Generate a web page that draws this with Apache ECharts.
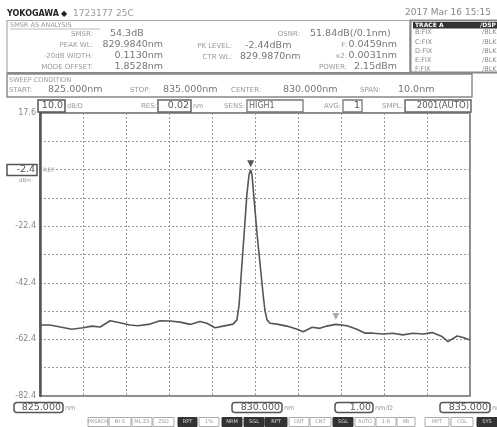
<!DOCTYPE html>
<html><head><meta charset="utf-8">
<script src="https://cdn.jsdelivr.net/npm/echarts@6/dist/echarts.min.js"></script>
<style>html,body{margin:0;padding:0;background:#fff;overflow:hidden}#c{width:497px;height:427px;}</style>
</head><body><div id="c"></div>
<script>
// ---- data ----
const wavelengthNm = [825.00,825.23,825.47,825.74,826.00,826.21,826.40,826.63,826.86,827.09,827.28,827.56,827.79,828.02,828.26,828.49,828.72,828.88,829.07,829.26,829.49,829.58,829.63,829.67,829.72,829.77,829.81,829.86,829.90,829.93,829.98,830.05,830.12,830.19,830.23,830.28,830.35,830.51,830.74,830.98,831.12,831.33,831.51,831.67,831.88,832.14,832.37,832.56,832.74,832.98,833.21,833.44,833.67,833.91,834.12,834.35,834.49,834.70,834.84,835.00];
const levelDbm = [-57.3,-57.3,-58.0,-58.8,-58.3,-57.7,-58.0,-55.8,-56.5,-57.3,-57.6,-57.0,-55.8,-55.9,-56.3,-57.1,-56.1,-56.7,-58.3,-57.7,-57.0,-55.5,-50.2,-41.4,-30.8,-20.2,-11.4,-4.3,-2.44,-4.3,-13.1,-25.5,-36.1,-46.7,-52.0,-55.5,-56.7,-57.0,-57.7,-58.8,-59.7,-58.1,-58.5,-57.7,-57.1,-57.6,-58.8,-60.2,-60.2,-60.5,-60.2,-60.8,-60.2,-60.5,-60.0,-61.4,-63.2,-61.2,-61.7,-62.6];
const yLabelValues = ['17.6','-22.4','-42.4','-62.4','-82.4'];
const markerPeak = [829.90, -2.44];
const markerSideMode = [831.88, -57.1];
const xRange = [825, 835];
const yRange = [-82.4, 17.6];

// ---- helpers ----
const LBL = "7px 'DejaVu Sans'";
const VAL = "9.5px 'DejaVu Sans'";
function T(x, y, text, font, fill, align, extra) {
  return Object.assign({type:'text', silent:true, z:10, style:{text:text, x:x, y:y, font:font||LBL, fill:fill||'#999', align:align||'left', verticalAlign:'middle'}}, extra||{});
}
function R(x, y, w, h, stroke, fill, lw) {
  return {type:'rect', silent:true, z:9, shape:{x:x,y:y,width:w,height:h}, style:{stroke:stroke||'#777', fill:fill||'none', lineWidth:lw||1}};
}
function L(x1,y1,x2,y2,stroke,lw){
  return {type:'line', silent:true, z:9, shape:{x1:x1,y1:y1,x2:x2,y2:y2}, style:{stroke:stroke||'#888', lineWidth:lw||1}};
}
const g = [];
// title row
g.push(T(7,14,'YOKOGAWA',"bold 8px 'DejaVu Sans'",'#222'));
g.push(T(61,14,'\u25C6',"8px 'DejaVu Sans'",'#222'));
g.push(T(73,14,'1723177 25C',"9px 'DejaVu Sans'",'#999'));
g.push(T(405,13,'2017 Mar 16 15:15',"9px 'DejaVu Sans'",'#888'));
// analysis box
g.push(R(7,20.5,403,52,'#aaa','none',1.2));
g.push(L(7,73,472,73,'#888',2));
g.push(T(10,25.5,'SMSR AS ANALYSIS',"6.5px 'DejaVu Sans'",'#999'));
g.push(L(10,29,100,29,'#aaa',0.8));
g.push(T(93,34,'SMSR:',LBL,'#999','right'));
g.push(T(93,45.5,'PEAK WL:',LBL,'#999','right'));
g.push(T(93,56.5,'-20dB WIDTH:',LBL,'#999','right'));
g.push(T(93,67,'MODE OFFSET:',LBL,'#999','right'));
g.push(T(110,33.5,'54.3dB',VAL,'#777'));
g.push(T(163,45,'829.9840nm',VAL,'#777','right'));
g.push(T(163,56,'0.1130nm',VAL,'#777','right'));
g.push(T(163,66.5,'1.8528nm',VAL,'#777','right'));
g.push(T(232,46,'PK LEVEL:',LBL,'#999','right'));
g.push(T(232,57,'CTR WL:',LBL,'#999','right'));
g.push(T(245,45.5,'-2.44dBm',VAL,'#777'));
g.push(T(240,56.5,'829.9870nm',VAL,'#777'));
g.push(T(300,34,'OSNR:',LBL,'#999','right'));
g.push(T(310,33.5,'51.84dB(/0.1nm)',VAL,'#777'));
g.push(T(347,45,'F:',LBL,'#999','right'));
g.push(T(347,56.5,'\u03BA2:',LBL,'#999','right'));
g.push(T(347,67,'POWER:',LBL,'#999','right'));
g.push(T(397,44.5,'0.0459nm',VAL,'#777','right'));
g.push(T(397,56,'0.0031nm',VAL,'#777','right'));
g.push(T(397,66.5,'2.15dBm',VAL,'#777','right'));
// trace box
g.push(R(410.5,20.5,90,52,'#888','none',2));
g.push(R(413,22,84,6.5,'none','#333'));
g.push(T(415,25.3,'TRACE A',"bold 6px 'DejaVu Sans'",'#fff'));
g.push(T(480,25.3,'/DSP',"bold 6px 'DejaVu Sans'",'#fff'));
['B:FIX','C:FIX','D:FIX','E:FIX','F:FIX'].forEach(function(t,i){
  const y = [32.5,42,51.5,60.5,69.5][i];
  g.push(T(415,y,t,"6.5px 'DejaVu Sans'",'#888'));
  g.push(T(482,y,'/BLK',"6.5px 'DejaVu Sans'",'#888'));
});
// sweep box
g.push(R(7,74,465,23,'#888','none',1.4));
g.push(T(9,80,'SWEEP CONDITION',"6.5px 'DejaVu Sans'",'#999'));
g.push(T(9,90,'START:',LBL,'#999'));
g.push(T(48,89.5,'825.000nm',VAL,'#777'));
g.push(T(130,90,'STOP:',LBL,'#999'));
g.push(T(163,89.5,'835.000nm',VAL,'#777'));
g.push(T(231,90,'CENTER:',LBL,'#999'));
g.push(T(283,89.5,'830.000nm',VAL,'#777'));
g.push(T(360,90,'SPAN:',LBL,'#999'));
g.push(T(398,89.5,'10.0nm',VAL,'#777'));
// above plot row
g.push(R(38,100,27,12,'#555','none',1.5));
g.push(T(63,106,'10.0',VAL,'#555','right'));
g.push(T(67,106,'dB/D',"6.5px 'DejaVu Sans'",'#999'));
g.push(T(157,106,'RES:',LBL,'#999','right'));
g.push(R(158,100,33,12,'#666','none',1.5));
g.push(T(189,106,'0.02',VAL,'#555','right'));
g.push(T(193,106,'nm',"6.5px 'DejaVu Sans'",'#999'));
g.push(T(245,106,'SENS:',LBL,'#999','right'));
g.push(R(247,100,56,12,'#777','none',1.3));
g.push(T(249,106,'HIGH1',"8px 'DejaVu Sans'",'#666'));
g.push(T(341,106,'AVG:',LBL,'#999','right'));
g.push(R(343,100,19,12,'#777','none',1.3));
g.push(T(360,106,'1',VAL,'#555','right'));
g.push(T(403,106,'SMPL:',LBL,'#999','right'));
g.push(R(405,100,66,12,'#666','none',1.5));
g.push(T(469,106,'2001(AUTO)',"8.5px 'DejaVu Sans'",'#555','right'));
// left ref box
g.push(R(7,164.5,30,11,'#555','none',1.5));
g.push(T(35,170,'-2.4',VAL,'#555','right'));
g.push(T(43,170,'REF',"6px 'DejaVu Sans'",'#999'));
g.push(T(19,180.5,'dBm',"5.5px 'DejaVu Sans'",'#999'));
// bottom boxes
function bbox(x,w,val,unit){
  g.push({type:'rect', silent:true, z:9, shape:{x:x,y:402.5,width:w,height:10,r:3}, style:{stroke:'#555',fill:'#fff',lineWidth:1.5}});
  g.push(T(x+w-2,407.5,val,VAL,'#555','right'));
  g.push(T(x+w+2,408,unit,"6.5px 'DejaVu Sans'",'#999'));
}
bbox(14,49,'825.000','nm');
bbox(232,50,'830.000','nm');
bbox(335,38,'1.00','nm/D');
bbox(440,50,'835.000','nm');
// soft key row
const keys = [[88,20,0,'PKSRCH'],[109,22,0,'BI-S'],[132,20,0,'ML-ZS'],[153,21,0,'ZSO'],[178,19,1,'RPT'],[199,20,0,'1%'],[222,20,1,'NRM'],[244,20,1,'SGL'],[265,22,1,'RPT'],[289,20,0,'CNT'],[310,21,0,'CNT'],[333,20,1,'SGL'],[355,20,0,'AUTO'],[376,20,0,'1-R'],[397,18,0,'8R'],[425,24,0,'MFT'],[451,22,0,'COL'],[477,20,1,'SYS']];
keys.forEach(function(k){
  g.push(R(k[0],417.5,k[1],9,k[2]?'#333':'#aaa',k[2]?'#333':'#fff',1));
  g.push(T(k[0]+k[1]/2,422,k[3],"5px 'DejaVu Sans'",k[2]?'#ddd':'#999','center'));
});

const chart = echarts.init(document.getElementById('c'), null, {renderer:'canvas'});
chart.setOption({
  animation:false,
  backgroundColor:'#fff',
  grid:{left:40, top:113, width:430, height:283, show:true, borderColor:'#666', borderWidth:1.5, containLabel:false},
  xAxis:{type:'value', min:xRange[0], max:xRange[1], interval:1,
    axisLine:{show:false}, axisTick:{show:false}, axisLabel:{show:false},
    splitLine:{show:true, lineStyle:{color:'#9a9a9a', type:[2,2], width:1}}},
  yAxis:{type:'value', min:yRange[0], max:yRange[1], interval:10,
    axisLine:{show:true, lineStyle:{color:'#555', width:2.5}}, axisTick:{show:false},
    axisLabel:{show:true, margin:4, color:'#888', fontSize:8, fontFamily:'DejaVu Sans',
      formatter:function(v){ const s=(Math.round(v*10)/10).toFixed(1); return yLabelValues.indexOf(s)>=0 ? s : ''; }},
    splitLine:{show:true, lineStyle:{color:'#9a9a9a', type:[2,2], width:1}}},
  series:[{
    type:'line', data: wavelengthNm.map(function(w,i){return [w, levelDbm[i]];}),
    showSymbol:false, symbol:'none', smooth:false,
    lineStyle:{color:'#555', width:1.6}, z:5,
    markPoint:{symbol:'triangle', symbolRotate:180, symbolSize:7, label:{show:false}, silent:true,
      data:[
        {coord:markerPeak, symbolOffset:[0,-6], itemStyle:{color:'#555'}},
        {coord:markerSideMode, symbolOffset:[0,-8], itemStyle:{color:'#aaa'}}
      ]}
  }],
  graphic:{elements:g}
});
</script></body></html>
